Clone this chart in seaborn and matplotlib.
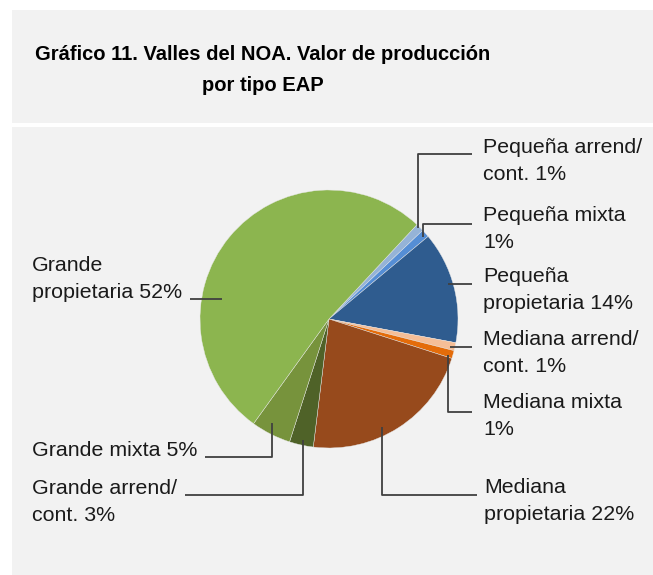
import matplotlib
matplotlib.use("Agg")
import matplotlib.pyplot as plt
from matplotlib.patches import Rectangle
import seaborn as sns

# ---- data ----
categories = [
    "Pequeña arrend/\ncont.", "Pequeña mixta\n", "Pequeña\npropietaria",
    "Mediana arrend/\ncont.", "Mediana mixta\n", "Mediana\npropietaria",
    "Grande arrend/\ncont.", "Grande mixta", "Grande\npropietaria",
]
values = [1, 1, 14, 1, 1, 22, 3, 5, 52]
colors = ["#95B3D7", "#558ED5", "#2F5C8F",
          "#F5BE97", "#E46C0A", "#974A1C",
          "#4F6228", "#77933C", "#8CB54F"]
title = "Gráfico 11. Valles del NOA. Valor de producción\npor tipo EAP"

sns.set_theme(style="white")
plt.rcParams["font.family"] = ["Liberation Sans", "DejaVu Sans"]

W, H = 653, 575
fig = plt.figure(figsize=(W / 100, H / 100), dpi=100)
fig.patch.set_facecolor("white")
ax = fig.add_axes([0, 0, 1, 1])

def Y(y):
    return H - y

# panels
bg = "#F2F2F2"
ax.add_patch(Rectangle((12, Y(123)), W - 12, 113, facecolor=bg, edgecolor="none", zorder=0))
ax.add_patch(Rectangle((12, 0), W - 12, Y(127), facecolor=bg, edgecolor="none", zorder=0))

pal = sns.color_palette(colors)
ax.pie(values, colors=pal, startangle=47, counterclock=False,
       center=(329, Y(319)), radius=129,
       wedgeprops=dict(linewidth=0.3, edgecolor="#E8E8E8"), frame=True)

ax.set_xlim(0, W)
ax.set_ylim(0, H)
ax.set_aspect("auto")
ax.axis("off")

ax.text(263, Y(70), title, ha="center", va="center", fontsize=14.5,
        fontweight="bold", color="#000000", linespacing=1.85)

labels = [
    "Pequeña arrend/\ncont. " + f"{values[0]}%",
    "Pequeña mixta\n" + f"{values[1]}%",
    "Pequeña\npropietaria " + f"{values[2]}%",
    "Mediana arrend/\ncont. " + f"{values[3]}%",
    "Mediana mixta\n" + f"{values[4]}%",
    "Mediana\npropietaria " + f"{values[5]}%",
    "Grande arrend/\ncont. " + f"{values[6]}%",
    "Grande mixta " + f"{values[7]}%",
    "Grande\npropietaria " + f"{values[8]}%",
]
label_pos = [(483, 161), (483, 229), (483, 290), (483, 353), (483, 416),
             (484, 501), (32, 502), (32, 451), (32, 279)]
leaders = [
    [(472, 154), (418, 154), (418, 228)],
    [(472, 224), (423, 224), (423, 237)],
    [(472, 284), (448, 284)],
    [(472, 347), (450, 347)],
    [(472, 412), (448, 412), (448, 355)],
    [(477, 495), (382, 495), (382, 427)],
    [(185, 495), (303, 495), (303, 440)],
    [(205, 457), (272, 457), (272, 423)],
    [(190, 299), (222, 299)],
]
for lab, (x, y), pts in zip(labels, label_pos, leaders):
    ax.text(x, Y(y), lab, ha="left", va="center", fontsize=15.4,
            color="#1a1a1a", linespacing=1.5)
    ax.plot([p[0] for p in pts], [Y(p[1]) for p in pts], color="#404040",
            lw=1.3, solid_capstyle="butt", zorder=5)

fig.savefig("out.png", dpi=100, facecolor="white")
